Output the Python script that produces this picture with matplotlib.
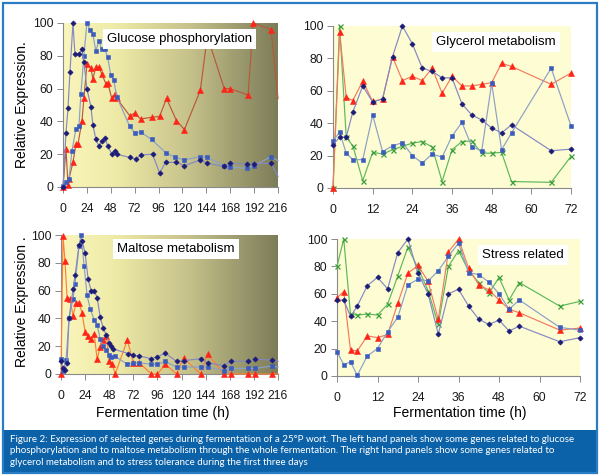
import matplotlib.pyplot as plt
import numpy as np
from matplotlib.colors import LinearSegmentedColormap
from matplotlib.patches import Rectangle

plt.rcParams['font.family'] = ['Liberation Sans', 'DejaVu Sans']

# --- glucose phosphorylation (whole fermentation) ---
glu_navy_x = [0, 3, 5, 7, 10, 12, 16, 19, 21, 24, 28, 30, 33, 36, 39, 42, 45, 49, 52, 54,
              67, 73, 78, 90, 97, 103, 114, 122, 138, 145, 162, 168, 185, 192, 209, 216]
glu_navy_y = [0, 33, 48, 70, 100, 81, 81, 84, 76, 60, 49, 38, 29, 25, 28, 30, 25, 20, 22, 20,
              18, 17, 19.5, 20, 8.5, 15, 15, 13, 16.5, 14.5, 12.5, 14.5, 14, 14, 14.5, 6.5]
glu_blue_x = [0, 3, 6, 9, 13, 16, 18, 21, 24, 27, 30, 33, 36, 39, 42, 45, 48, 51, 54,
              67, 72, 78, 89, 103, 113, 122, 138, 145, 162, 168, 185, 192, 209, 216]
glu_blue_y = [0.5, 3, 5, 22, 35.5, 37, 57, 80, 100, 96, 93, 83, 89, 84, 84, 79, 68, 65, 55,
              37, 33, 33.5, 29, 21, 18, 16.5, 18.5, 18, 13, 12, 11.5, 13, 18.5, 16]
glu_red_x = [0, 3, 5, 6, 10, 13, 15, 19, 21, 24, 28, 30, 33, 36, 39, 43, 45, 49, 52, 54,
             67, 72, 78, 89, 97, 104, 114, 122, 138, 145, 162, 168, 186, 191, 209, 216]
glu_red_y = [0, 23, 1.5, 5, 15, 26, 26, 40, 54, 75, 72.5, 66, 73, 73, 69, 63, 63.5, 54, 56.5, 54,
             43.5, 45, 41.5, 42.5, 43, 54, 40.5, 35, 59, 92, 60, 60, 56, 100, 96, 54]

# --- maltose metabolism (whole fermentation) ---
mal_navy_x = [0, 2, 4, 6, 8, 12, 14, 18, 21, 24, 27, 30, 33, 36, 39, 42, 45, 48, 50, 52,
              67, 72, 78, 90, 96, 104, 115, 122, 139, 146, 162, 169, 186, 193, 210, 216]
mal_navy_y = [9, 4, 3, 8, 40, 61, 71, 93, 96, 87, 68, 60, 60, 55, 41, 33, 28, 22, 20, 18,
              14.7, 13.4, 13, 11, 12.5, 15, 9, 9.6, 11, 8, 6, 9, 9.4, 10.6, 10, 9]
mal_blue_x = [0, 2, 5, 8, 12, 14, 18, 20, 23, 26, 29, 33, 36, 39, 42, 45, 48, 50, 54,
              66, 72, 78, 90, 96, 104, 115, 122, 139, 146, 162, 169, 186, 193, 210, 216]
mal_blue_y = [11, 2.4, 10, 40, 54, 65, 92, 100, 78, 56.5, 47, 39, 35.5, 25, 20, 17, 13.7, 12.5, 12.7,
              7, 8, 8, 7, 7, 9, 5, 5, 5, 5, 2.4, 4, 4, 4, 5.8, 5]
mal_red_x = [0, 2, 4, 6, 9, 12, 15, 18, 21, 24, 27, 30, 33, 36, 39, 42, 45, 48, 51, 54,
             66, 72, 78, 90, 96, 104, 115, 122, 139, 146, 162, 169, 186, 193, 210, 216]
mal_red_y = [0, 99.5, 81, 55, 54, 42, 51, 51, 44, 30, 27, 25, 29, 10.5, 19.7, 24.5, 27.6, 9.6, 7, 0,
             24.5, 8, 8, 0, 0, 7, 0, 11.5, 0, 14.4, 0, 0, 0, 0, 0, 0]

# --- first three days (glycerol, stress) ---
t_short = [0, 2, 4, 6, 9, 12, 15, 18, 21, 24, 27, 30, 33, 36, 39, 42, 45, 48, 51, 54, 66, 72]
gly_navy = [26.7, 31.4, 31.4, 47, 63, 53, 55, 81, 100, 89, 74, 72, 68, 68, 52, 45, 42, 37, 34, 39, 23, 24]
gly_blue = [29, 34.5, 21.5, 17.5, 17.5, 45, 22.5, 26, 28, 20, 15.4, 21, 19, 32, 40.5, 25.5, 23, 64.7, 23.6, 34, 74, 38.4]
gly_red = [0, 96, 56, 54, 66, 53.4, 55, 81, 66.3, 69, 66.3, 74, 58.5, 69, 63, 63, 64, 65, 77, 75, 64, 71]
gly_green = [0, 100, 31.4, 26, 4.5, 22, 21, 23.6, 25.7, 27.7, 28.7, 25.3, 4, 23.6, 28.7, 29, 21.5, 21.5, 22, 4, 3.5, 19.5]

str_navy = [55.5, 55.5, 43.5, 51, 66, 72, 63.6, 90, 100, 75, 60, 30.5, 60, 63.3, 51, 41.5, 37.6, 40.8, 32.8, 36.4, 25, 28]
str_blue = [17.6, 8.3, 10.3, 0.5, 14.7, 20, 32.3, 42.8, 66.5, 70.7, 69.4, 76.8, 87.3, 97, 75.5, 74, 68.5, 60, 48.7, 55.5, 35.5, 33.5]
str_red = [57.2, 61.6, 18.8, 18.3, 29.3, 28, 30.3, 53, 75, 80.7, 69, 41.3, 90.5, 100, 78.7, 66.5, 62.8, 55.5, 48.7, 46.2, 33.5, 35]
str_green = [80, 100, 45, 44.5, 45.2, 44.5, 52.3, 73, 94, 78.7, 62.3, 37.6, 80, 91.5, 76.8, 68.2, 60.4, 71.9, 55.5, 68.2, 51, 54.5]

long_ticks = [0, 24, 48, 72, 96, 120, 144, 168, 192, 216]
short_ticks = [0, 12, 24, 36, 48, 60, 72]
y_ticks = [0, 20, 40, 60, 80, 100]

caption = ("Figure 2: Expression of selected genes during fermentation of a 25\u00b0P wort. "
           "The left hand panels show some genes related to glucose\n"
           "phosphorylation and to maltose metabolism through the whole fermentation. "
           "The right hand panels show some genes related to\n"
           "glycerol metabolism and to stress tolerance during the first three days")

NAVY = '#1c1c78'
BLUE = '#3b5cbd'
RED = '#ff2418'
GREEN = '#3a9c3a'

gradient_cmap = LinearSegmentedColormap.from_list(
    'olive', [(0.0, '#faf6bc'), (0.25, '#eeeaa6'), (0.6, '#c4c08a'), (1.0, '#7c7c58')])


def draw_series(ax, x, y, marker, mcolor, lcolor, ms, skip_last=False):
    '''plots one gene as a thin line with excel-like markers'''
    every = slice(0, len(x) - 1) if skip_last else None
    mew = 0.9 if marker == 'x' else 0.4
    ax.plot(x, y, color=lcolor, lw=0.85, marker=marker, ms=ms, mfc=mcolor, mec=mcolor,
            mew=mew, markevery=every, zorder=3, clip_on=False)


def setup_panel(ax, xmax, xticks, title, title_pos, gradient):
    if gradient:
        grad = np.linspace(0, 1, 256).reshape(1, -1)
        ax.imshow(grad, extent=[0, xmax, 0, 100], aspect='auto', cmap=gradient_cmap, zorder=0)
    else:
        ax.set_facecolor('#fefcd2')
    ax.set_xlim(0, xmax)
    ax.set_ylim(0, 100)
    ax.set_xticks(xticks)
    ax.set_yticks(y_ticks)
    for side in ['top', 'right']:
        ax.spines[side].set_visible(False)
    for side in ['left', 'bottom']:
        ax.spines[side].set_color('#8a8a8a')
        ax.spines[side].set_linewidth(0.8)
    ax.tick_params(direction='out', length=4, width=0.7, color='#8a8a8a',
                   labelsize=8.8, labelcolor='#1a1a1a', pad=3)
    ax.tick_params(axis='x', pad=7.5)
    ax.text(title_pos[0], title_pos[1], title, transform=ax.transAxes, ha='center', va='center',
            fontsize=9.5, zorder=10,
            bbox=dict(facecolor='white', edgecolor='none', boxstyle='square,pad=0.3'))


fig = plt.figure(figsize=(6, 4.76), dpi=100)

# glucose phosphorylation
ax1 = fig.add_axes([63 / 600, 1 - 187 / 476, 215 / 600, 164 / 476])
setup_panel(ax1, 216, long_ticks, 'Glucose phosphorylation', (0.54, 0.9), True)
draw_series(ax1, glu_red_x, glu_red_y, '^', RED, '#b8583c', 3.9, True)
draw_series(ax1, glu_blue_x, glu_blue_y, 's', BLUE, '#8aa0c8', 3.2, True)
draw_series(ax1, glu_navy_x, glu_navy_y, 'D', NAVY, '#8488c4', 2.7, True)

# glycerol metabolism
ax2 = fig.add_axes([333 / 600, 1 - 188 / 476, 238 / 600, 162 / 476])
setup_panel(ax2, 72, short_ticks, 'Glycerol metabolism', (0.685, 0.9), False)
draw_series(ax2, t_short, gly_green, 'x', GREEN, '#5cb85c', 3.6)
draw_series(ax2, t_short, gly_red, '^', RED, '#f27a62', 3.9)
draw_series(ax2, t_short, gly_blue, 's', BLUE, '#8aa0c8', 3.2)
draw_series(ax2, t_short, gly_navy, 'D', NAVY, '#8488c4', 2.7)

# maltose metabolism
ax3 = fig.add_axes([61 / 600, 1 - 374 / 476, 217 / 600, 139 / 476])
setup_panel(ax3, 216, long_ticks, 'Maltose metabolism', (0.53, 0.896), True)
draw_series(ax3, mal_red_x, mal_red_y, '^', RED, '#ff8034', 3.9, True)
draw_series(ax3, mal_blue_x, mal_blue_y, 's', BLUE, '#8aa0c8', 3.2, True)
draw_series(ax3, mal_navy_x, mal_navy_y, 'D', NAVY, '#8488c4', 2.7, True)

# stress related
ax4 = fig.add_axes([337 / 600, 1 - 376 / 476, 243 / 600, 137 / 476])
setup_panel(ax4, 72, short_ticks, 'Stress related', (0.766, 0.883), False)
draw_series(ax4, t_short, str_green, 'x', GREEN, '#5cb85c', 3.6)
draw_series(ax4, t_short, str_red, '^', RED, '#f27a62', 3.9)
draw_series(ax4, t_short, str_blue, 's', BLUE, '#8aa0c8', 3.2)
draw_series(ax4, t_short, str_navy, 'D', NAVY, '#8488c4', 2.7)

fig.text(22 / 600, 1 - 105 / 476, 'Relative Expression.', rotation=90, ha='center', va='center', fontsize=10)
fig.text(22 / 600, 1 - 302 / 476, 'Relative Expression .', rotation=90, ha='center', va='center', fontsize=10)
fig.text(163 / 600, 1 - 413 / 476, 'Fermentation time (h)', ha='center', va='center', fontsize=10)
fig.text(460 / 600, 1 - 413 / 476, 'Fermentation time (h)', ha='center', va='center', fontsize=10)

# frame and caption band
fig.patches.append(Rectangle((3 / 600, 3 / 476), 594 / 600, 43 / 476, transform=fig.transFigure,
                             facecolor='#0c62a8', edgecolor='none', zorder=0))
fig.patches.append(Rectangle((3 / 600, 3 / 476), 594 / 600, 470 / 476, transform=fig.transFigure,
                             fill=False, edgecolor='#2a7cc4', lw=1.6, zorder=1))
fig.text(10 / 600, 1 - 435 / 476, caption, ha='left', va='top', color='white',
         fontsize=7.05, family=['Lato', 'DejaVu Sans'], linespacing=1.35)

fig.savefig('out.png', dpi=100)
